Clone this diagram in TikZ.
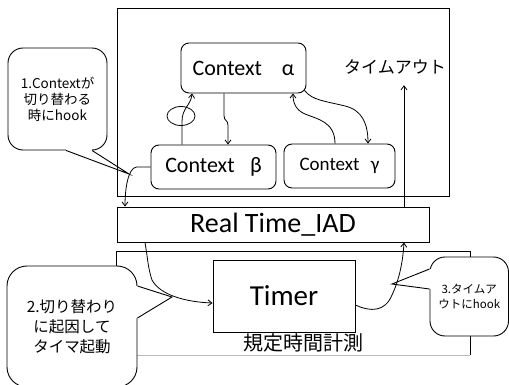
\documentclass[tikz,border=0pt]{standalone}
\usepackage{fontspec}
\setmainfont{Carlito}
\newfontfamily\jp{Noto Sans CJK JP}
\usetikzlibrary{arrows.meta}

\begin{document}
\begin{tikzpicture}[x=1pt,y=-1pt,
  ctx/.style={draw, rounded corners=8pt, line width=0.9pt, fill=white, inner sep=0pt},
  plain/.style={draw, line width=0.9pt, inner sep=0pt},
  arr/.style={line width=0.8pt, -{Straight Barb[length=4pt,width=6pt]}},
  callout/.style={draw, fill=white, line width=0.9pt, align=center, inner sep=0pt},
  edge/.style={line width=0.9pt},
]
\useasboundingbox (0,0) rectangle (509,385);

% timing area: open-looking frame with a faint bottom line
\node[inner sep=0pt, minimum width=353pt, minimum height=103pt] (lower) at (293.5,303.5) {};
\draw[edge] (lower.south west) -- (lower.north west) -- (lower.north east) -- (lower.south east);
\draw[edge, gray!55] (lower.south west) -- (lower.south east);

% speech bubbles
\node[callout, rounded corners=15pt, minimum width=99pt, minimum height=102pt,
      font={\jp\fontsize{13.5}{16}\selectfont}] (c1) at (57.5,99) {1.Contextが\\切り替わる\\時にhook};
\node[callout, rounded corners=20pt, minimum width=130pt, minimum height=121pt,
      font={\jp\fontsize{15.5}{20}\selectfont}] (c2) at (72,326.5) {2.切り替わり\\に起因して\\タイマ起動};
\node[callout, rounded corners=15pt, minimum width=78.5pt, minimum height=79pt,
      font={\jp\fontsize{11.5}{15}\selectfont}] (c3) at (469.25,296.5) {3.タイムア\\ウトにhook};

\coordinate (hook1) at (129,174);
\coordinate (hook2) at (172,297);
\coordinate (hook3) at (392,284);

% bubble pointers
\fill[white] ([xshift=8.5pt,yshift=2pt]c1.south) -- ([xshift=8.5pt]c1.south) -- (hook1)
  -- ([xshift=34.5pt]c1.south) -- ([xshift=34.5pt,yshift=2pt]c1.south) -- cycle;
\draw[edge] ([xshift=8.5pt]c1.south) -- (hook1) -- ([xshift=34.5pt]c1.south);

\fill[white] ([xshift=-2pt,yshift=40.5pt]c2.east) -- ([yshift=40.5pt]c2.east) -- (hook2)
  -- ([yshift=8.5pt]c2.east) -- ([xshift=-2pt,yshift=8.5pt]c2.east) -- cycle;
\draw[edge] ([yshift=40.5pt]c2.east) -- (hook2) -- ([yshift=8.5pt]c2.east);

\fill[white] ([xshift=2pt,yshift=27.5pt]c3.west) -- ([yshift=27.5pt]c3.west) -- (hook3)
  -- ([yshift=7.5pt]c3.west) -- ([xshift=2pt,yshift=7.5pt]c3.west) -- cycle;
\draw[edge] ([yshift=27.5pt]c3.west) -- (hook3) -- ([yshift=7.5pt]c3.west);

% frames
\node[plain, minimum width=332pt, minimum height=188pt] (upper) at (283,102) {};
\node[plain, minimum width=312pt, minimum height=35pt, font=\fontsize{28}{32}\selectfont] (rt) at (273,224.5) {Real Time\_IAD};
\node[plain, minimum width=142pt, minimum height=72pt, font=\fontsize{29}{33}\selectfont] (timer) at (284,296) {Timer};
\node[inner sep=0pt, font={\jp\fontsize{20}{24}\selectfont}] (measure) at (303,343) {規定時間計測};

% contexts
\node[ctx, minimum width=125pt, minimum height=50pt, font=\fontsize{22}{26}\selectfont] (alpha) at (243.5,68) {Context\hspace{0.9em}α};
\node[ctx, minimum width=125pt, minimum height=44pt, font=\fontsize{22}{26}\selectfont] (beta) at (213.5,167) {Context\hspace{0.7em}β};
\node[ctx, minimum width=111pt, minimum height=44pt, font=\fontsize{19}{23}\selectfont] (gamma) at (339.5,166) {Context\hspace{0.6em}γ};

\node[inner xsep=0pt, inner ysep=8pt, text height=13pt, text depth=3pt,
      font={\jp\fontsize{17}{20}\selectfont}] (timeout) at (395,69) {タイムアウト};

% context switches
\draw[arr] ([xshift=-31.5pt]beta.north) -- ++(0,-23)
  .. controls ++(0,-14) and ++(-1,12) .. ([xshift=-51.5pt]alpha.south);
\draw[line width=0.8pt] (181,116) ellipse [x radius=14pt, y radius=9.5pt];
\draw[arr] ([xshift=-19.5pt]alpha.south) -- ++(0,22)
  .. controls ++(0,6) and ++(0,-6) .. ++(4,10) -- ([xshift=14.5pt]beta.north);
\draw[arr] ([xshift=-4.5pt]gamma.north) .. controls ++(0,-22) and ++(12,5) .. (305,114)
  .. controls ++(-9,-4) and ++(0,10) .. ([xshift=49.5pt]alpha.south);
\draw[arr] ([shift={(-2,-3)}]alpha.south east) .. controls ++(8,10) and ++(-20,-5) .. (345,106)
  .. controls ++(17,4) and ++(0,-20) .. ([xshift=28.5pt]gamma.north);

% hooks into Real Time_IAD and the timer
\draw[arr] (beta.west) -- ++(-14,0) .. controls ++(-9,1) and ++(0,-16) .. ([xshift=-148pt]rt.north);
\draw[arr] ([xshift=-128pt]rt.south) .. controls ++(3,18) and ++(-4,-12) .. (152,280)
  .. controls ++(8,15) and ++(-27,-1) .. ([yshift=-7pt]timer.west);
\draw[arr] ([yshift=-9pt]timer.east) .. controls ++(15,7) and ++(-7,17) .. (392,295)
  .. controls ++(8,-17) and ++(-1,17) .. ([xshift=131pt]rt.south);
\draw[arr] ([xshift=131pt]rt.north) -- ([xshift=131pt]rt.north |- timeout.south);
\end{tikzpicture}
\end{document}
